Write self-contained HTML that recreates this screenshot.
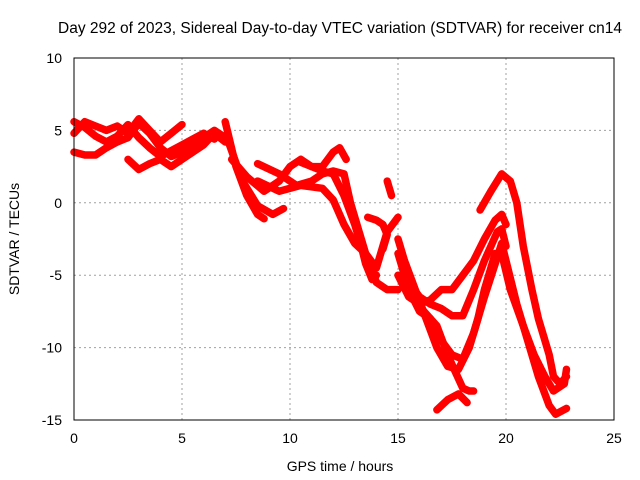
<!DOCTYPE html>
<html><head><meta charset="utf-8"><style>
body{margin:0;background:#fff;}
svg{display:block;font-family:"Liberation Sans",sans-serif;}
</style></head><body>
<svg id="chart" width="640" height="480" viewBox="0 0 640 480">
<text x="340" y="33" font-size="15.5" text-anchor="middle">Day 292 of 2023, Sidereal Day-to-day VTEC variation (SDTVAR) for receiver cn14</text>
<text x="340" y="471" font-size="14" text-anchor="middle">GPS time / hours</text>
<text transform="translate(19,239) rotate(-90)" font-size="14" text-anchor="middle">SDTVAR / TECUs</text>
<g id="grid"></g><g id="ticks"></g><g id="series"></g>
<rect x="74" y="58" width="540" height="362" fill="none" stroke="#000" stroke-width="1"/>
</svg>
<script>
const xTicks=[0,5,10,15,20,25];
const yTicks=[10,5,0,-5,-10,-15];
const tA=[[7.0,5.6],[7.5,2.5],[8,0.5],[8.5,-0.8],[8.8,-1.1]];
const tB=[[7.2,4],[7.8,1.5],[8.5,-0.2],[9.2,-0.8],[9.7,-0.4]];
const tC=[[7.3,3],[8,1.8],[8.8,0.8],[9.5,1.5],[10,2.5],[10.5,3],[11,2.5],[11.5,2.5],[12,3.5],[12.3,3.8],[12.6,3]];
const tD=[[8.5,2.7],[9.5,2],[10.3,1.2],[11,1.5],[11.5,2],[12,2.2],[12.5,2],[12.8,0],[13.2,-2],[13.5,-3.5],[14,-4.5],[14.3,-3],[14.5,-2],[15,-1]];
const tE=[[8.5,1.5],[9.5,0.8],[10.5,1.2],[11.5,1],[12,0.2],[12.5,-1.5],[13,-2.8],[13.5,-3.5],[14,-5.5],[14.5,-6],[15,-6]];
const tF=[[10.5,2.8],[11.5,2.2],[12,2],[12.5,0.5],[13,-1.5],[13.3,-3],[13.5,-4.2],[13.8,-5.3],[14,-5]];
const tG=[[15,-2.5],[15.3,-4],[15.8,-6],[16.3,-8],[16.8,-10],[17.3,-11.3],[17.8,-11.5],[18.3,-10],[18.7,-8],[19,-6],[19.3,-4.5],[19.5,-3.5],[19.8,-3.5],[20.2,-6],[20.8,-8.5],[21.3,-10.5],[21.8,-12],[22.2,-13],[22.7,-12.5],[22.8,-11.5]];
const tH=[[15,-3.5],[15.5,-6],[16,-7.5],[16.5,-8],[17,-9.5],[17.5,-10.5],[18,-10.8],[18.5,-9],[19,-6.5],[19.5,-4.2],[19.8,-2.8],[20,-4],[20.5,-7],[21,-9.5],[21.5,-12],[22,-14],[22.3,-14.6],[22.8,-14.2]];
const tI=[[15.5,-6],[16.2,-7.5],[16.8,-8.5],[17.3,-10.5],[17.6,-11.5],[18,-12.8],[18.3,-13],[18.5,-13]];
const tI2=[[16.8,-14.3],[17.3,-13.6],[17.8,-13.2],[18.2,-13.8]];
const tJ=[[15,-5],[15.5,-6.5],[16,-7],[16.5,-6.7],[17,-6],[17.5,-6],[18,-5],[18.5,-4],[19,-2.5],[19.5,-1.2],[19.8,-0.8],[20,-1.5]];
const tK=[[15.5,-5.5],[16,-6.5],[16.5,-7],[17,-7.3],[17.5,-7.8],[18,-7.8],[18.5,-6],[19,-4],[19.3,-3],[19.6,-2],[19.8,-1.8],[20,-3]];
const tL=[[18.8,-0.5],[19.3,0.8],[19.8,2],[20.2,1.5],[20.5,0],[20.8,-3],[21.2,-6],[21.5,-8],[21.8,-9.5],[22,-10.5],[22.2,-12],[22.5,-12.5],[22.8,-12]];
const tM=[[14.5,1.5],[14.7,0.5]];
const tN=[[13.6,-1],[14,-1.2],[14.3,-1.5],[14.5,-2.2],[14.3,-3.2]];
const t1=[[0,4.8],[0.5,5.6],[1,5.3],[1.5,5],[2,5.3],[2.5,4.8],[3,5.8],[3.5,5],[4,4.2],[4.5,4.8],[5,5.4]];
const t2=[[0,3.5],[0.5,3.3],[1,3.3],[1.5,3.8],[2,4.2],[2.5,4.5],[3,5.5],[3.5,4.8],[4,3.8],[4.5,3.2],[5,3.5],[5.5,4],[6,4.5],[6.5,5],[7,4.5]];
const t3=[[2.5,3],[3,2.3],[3.5,2.7],[4,3],[4.5,2.5],[5,3],[5.5,3.5],[6,4],[6.5,4.8],[7,4.2]];
const t4=[[0,5.6],[0.5,5.2],[1,4.6],[1.5,4.2],[2,4.6],[2.5,5.4],[3,4.5],[3.5,3.8],[4,3.2],[4.5,3.6],[5,4],[5.5,4.4],[6,4.8],[6.5,4.4]];
const tracks=[t1,t2,t3,t4,tA,tB,tC,tD,tE,tF,tG,tH,tI,tI2,tJ,tK,tL,tM,tN];
const X=h=>74+h*21.6, Y=v=>58+(10-v)*14.48;
const NS='http://www.w3.org/2000/svg';
const grid=document.getElementById('grid'),ticks=document.getElementById('ticks'),ser=document.getElementById('series');
xTicks.forEach(t=>{
 if(t>0&&t<25){const l=document.createElementNS(NS,'line');
 
 
 l.setAttribute('x1',X(t));l.setAttribute('x2',X(t));l.setAttribute('y1',58);l.setAttribute('y2',420);
 l.setAttribute('stroke','#a0a0a0');l.setAttribute('stroke-dasharray','2,3');grid.appendChild(l);}
 const tx=document.createElementNS(NS,'text');
 
 
 tx.setAttribute('x',X(t));tx.setAttribute('y',443);tx.setAttribute('font-size','14');tx.setAttribute('text-anchor','middle');tx.textContent=t;ticks.appendChild(tx);
});
yTicks.forEach(t=>{
 if(t<10&&t>-15){const l=document.createElementNS(NS,'line');
 
 
 l.setAttribute('x1',74);l.setAttribute('x2',614);l.setAttribute('y1',Y(t));l.setAttribute('y2',Y(t));
 l.setAttribute('stroke','#a0a0a0');l.setAttribute('stroke-dasharray','2,3');grid.appendChild(l);}
 const tx=document.createElementNS(NS,'text');
 
 
 tx.setAttribute('x',62);tx.setAttribute('y',Y(t)+5);tx.setAttribute('font-size','14');tx.setAttribute('text-anchor','end');tx.textContent=t;ticks.appendChild(tx);
});
tracks.forEach(tr=>{
 const p=document.createElementNS(NS,'polyline');
 
 
 p.setAttribute('points',tr.map(d=>X(d[0])+','+Y(d[1])).join(' '));
 p.setAttribute('fill','none');p.setAttribute('stroke','#ff0000');p.setAttribute('stroke-width','7.5');
 p.setAttribute('stroke-linejoin','round');p.setAttribute('stroke-linecap','round');ser.appendChild(p);
});
</script>
</body></html>
